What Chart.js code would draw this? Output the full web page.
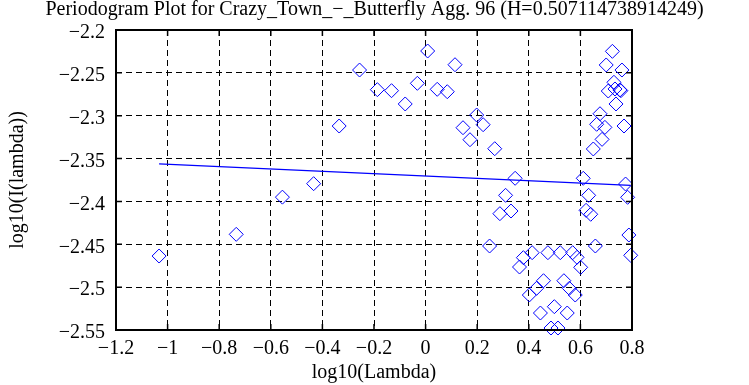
<!DOCTYPE html>
<html>
<head>
<meta charset="utf-8">
<script src="https://cdn.jsdelivr.net/npm/chart.js@4.4.0/dist/chart.umd.min.js"></script>
<style>
  html, body { margin: 0; padding: 0; background: #fff; }
</style>
</head>
<body>
<canvas id="grafico" width="749" height="385"></canvas>
<script>
// ticks dos eixos
const xTicks = [-1.2, -1, -0.8, -0.6, -0.4, -0.2, 0, 0.2, 0.4, 0.6, 0.8];
const yTicks = [-2.55, -2.5, -2.45, -2.4, -2.35, -2.3, -2.25, -2.2];

// pontos do periodograma
const lambdaX = [
  -1.033, -0.734, -0.555, -0.434, -0.335, -0.256, 0.008, 0.114, -0.187, -0.132,
  -0.032, -0.079, 0.045, 0.084, 0.198, 0.145, 0.223, 0.172, 0.268, 0.724,
  0.700, 0.761, 0.730, 0.708, 0.734, 0.753, 0.757, 0.738, 0.676, 0.663,
  0.695, 0.769, 0.684, 0.650, 0.347, 0.611, 0.775, 0.310, 0.632, 0.783,
  0.288, 0.331, 0.622, 0.640, 0.788, 0.248, 0.658, 0.795, 0.379, 0.413,
  0.474, 0.522, 0.570, 0.587, 0.601, 0.364, 0.457, 0.536, 0.430, 0.557,
  0.402, 0.580, 0.499, 0.445, 0.549, 0.486, 0.513
];
const periodY = [
  -2.4637, -2.4384, -2.3950, -2.3793, -2.3120, -2.2467, -2.2245, -2.2405, -2.2696, -2.2708,
  -2.2622, -2.2863, -2.2692, -2.2720, -2.2992, -2.3140, -2.3105, -2.3280, -2.3385, -2.2249,
  -2.2408, -2.2467, -2.2610, -2.2712, -2.2688, -2.2700, -2.2708, -2.2863, -2.2977, -2.3100,
  -2.3136, -2.3120, -2.3276, -2.3388, -2.3730, -2.3730, -2.3797, -2.3929, -2.3929, -2.3952,
  -2.4143, -2.4112, -2.4104, -2.4150, -2.4392, -2.4520, -2.4520, -2.4629, -2.4656, -2.4598,
  -2.4598, -2.4598, -2.4598, -2.4652, -2.4769, -2.4765, -2.4925, -2.4925, -2.5014, -2.5014,
  -2.5092, -2.5092, -2.5228, -2.5302, -2.5302, -2.5477, -2.5477
];

// reta ajustada
const fitX = [-1.033, 0.795];
const fitY = [-2.3563, -2.3812];

const fonte = "'Liberation Serif', 'DejaVu Serif', serif";
const fmt = v => String(v).replace("-", "\u2212");

const pontos = lambdaX.map((x, i) => ({ x: x, y: periodY[i] }));
const reta = fitX.map((x, i) => ({ x: x, y: fitY[i] }));

// moldura e marcas internas (estilo gnuplot)
const moldura = {
  id: "moldura",
  afterDatasetsDraw(chart) {
    const { ctx, chartArea: a, scales } = chart;
    ctx.save();
    ctx.strokeStyle = "#000";
    ctx.lineWidth = 1.5;
    ctx.beginPath();
    xTicks.forEach(v => {
      const px = scales.x.getPixelForValue(v);
      ctx.moveTo(px, a.bottom); ctx.lineTo(px, a.bottom - 6);
      ctx.moveTo(px, a.top); ctx.lineTo(px, a.top + 6);
    });
    yTicks.forEach(v => {
      const py = scales.y.getPixelForValue(v);
      ctx.moveTo(a.left, py); ctx.lineTo(a.left + 6, py);
      ctx.moveTo(a.right, py); ctx.lineTo(a.right - 6, py);
    });
    ctx.stroke();
    ctx.lineWidth = 2;
    ctx.strokeRect(a.left, a.top, a.right - a.left, a.bottom - a.top);
    ctx.restore();
  }
};

new Chart(document.getElementById("grafico").getContext("2d"), {
  type: "scatter",
  data: {
    datasets: [
      {
        label: "periodograma",
        data: pontos,
        pointStyle: "rectRot",
        pointRadius: 7,
        pointHoverRadius: 7,
        borderColor: "#0000ff",
        backgroundColor: "rgba(0,0,0,0)",
        borderWidth: 1,
        clip: false
      },
      {
        label: "ajuste",
        type: "line",
        data: reta,
        borderColor: "#0000ff",
        borderWidth: 1.2,
        pointRadius: 0,
        fill: false
      }
    ]
  },
  options: {
    responsive: false,
    animation: false,
    layout: { padding: 0 },
    plugins: {
      legend: { display: false },
      tooltip: { enabled: false },
      title: {
        display: true,
        text: "Periodogram Plot for Crazy_Town_\u2212_Butterfly Agg. 96 (H=0.507114738914249)",
        color: "#000",
        font: { family: fonte, size: 20, weight: "normal", lineHeight: 1.0 },
        padding: { top: 0, bottom: 10 }
      }
    },
    scales: {
      x: {
        type: "linear",
        min: -1.2,
        max: 0.8,
        afterBuildTicks: s => { s.ticks = xTicks.map(v => ({ value: v })); },
        afterFit: s => { s.height = 55; },
        grid: { color: "#000", lineWidth: 1, drawTicks: false },
        border: { display: false, dash: [6, 4] },
        ticks: { color: "#000", font: { family: fonte, size: 20 }, padding: 7, maxRotation: 0, callback: v => fmt(v) },
        title: { display: true, text: "log10(Lambda)", color: "#000", font: { family: fonte, size: 20, lineHeight: 1.2 }, padding: { top: 0, bottom: 0 } }
      },
      y: {
        type: "linear",
        min: -2.55,
        max: -2.2,
        afterBuildTicks: s => { s.ticks = yTicks.map(v => ({ value: v })); },
        afterFit: s => { s.width = 116; },
        grid: { color: "#000", lineWidth: 1, drawTicks: false },
        border: { display: false, dash: [6, 4] },
        ticks: { color: "#000", font: { family: fonte, size: 20 }, padding: 11, labelOffset: 3, callback: v => fmt(v) },
        title: { display: true, text: "log10(I(lambda))", color: "#000", font: { family: fonte, size: 20, lineHeight: 1.2 }, padding: { top: 6, bottom: 0 } }
      },
      // espaço vazio à direita, como no gnuplot
      margemDireita: {
        type: "linear",
        position: "right",
        min: -2.55,
        max: -2.2,
        afterFit: s => { s.width = 117; },
        grid: { display: false },
        border: { display: false },
        ticks: { display: false }
      }
    }
  },
  plugins: [moldura]
});
</script>
</body>
</html>
